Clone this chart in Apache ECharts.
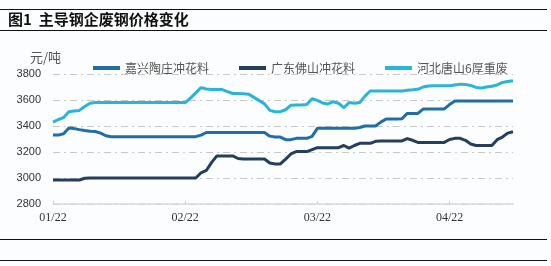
<!DOCTYPE html>
<html>
<head>
<meta charset="utf-8">
<script src="https://cdn.jsdelivr.net/npm/echarts@6/dist/echarts.min.js"></script>
<style>
html,body{margin:0;padding:0;background:#fcfdfe;}
#chart{width:551px;height:266px;}
</style>
</head>
<body>
<div id="chart"></div>
<script>
// Month tick labels (one label every 25 observations)
var monthLabels = ['01/22', '02/22', '03/22', '04/22'];
var seriesNames = ['嘉兴陶庄冲花料', '广东佛山冲花料', '河北唐山6厚重废'];
var yTicks = [2800, 3000, 3200, 3400, 3600, 3800];

var jiaxing = [3330,3330,3340,3385,3380,3372,3365,3360,3358,3345,
  3325,3318,3318,3318,3318,3318,3318,3318,3318,3318,
  3318,3318,3318,3318,3318,3318,3318,3318,3330,3350,
  3350,3350,3350,3350,3350,3350,3350,3350,3350,3350,
  3350,3322,3315,3315,3295,3295,3305,3305,3305,3320,
  3382,3382,3382,3382,3382,3382,3382,3382,3388,3400,
  3400,3400,3430,3454,3454,3454,3456,3497,3497,3497,
  3530,3531,3531,3531,3531,3565,3592,3592,3592,3592,
  3592,3592,3592,3592,3592,3592,3592,3592];

var foshan = [2985,2985,2985,2985,2985,2985,2998,3000,3000,3000,
  3000,3000,3000,3000,3000,3000,3000,3000,3000,3000,
  3000,3000,3000,3000,3000,3000,3000,3000,3040,3058,
  3120,3170,3170,3170,3170,3150,3146,3146,3146,3146,
  3146,3115,3108,3108,3145,3185,3203,3203,3203,3218,
  3233,3233,3233,3233,3233,3250,3230,3250,3267,3267,
  3267,3282,3285,3285,3285,3285,3285,3303,3290,3274,
  3274,3274,3274,3274,3274,3296,3305,3305,3290,3262,
  3250,3250,3250,3250,3295,3315,3345,3356];

var tangshan = [3430,3450,3465,3510,3515,3520,3550,3575,3580,3580,
  3580,3580,3580,3580,3580,3580,3580,3580,3580,3580,
  3580,3580,3580,3580,3580,3580,3614,3655,3695,3685,
  3680,3680,3680,3665,3650,3650,3648,3645,3620,3595,
  3570,3520,3510,3510,3525,3560,3562,3562,3565,3610,
  3597,3577,3570,3587,3575,3542,3580,3575,3580,3630,
  3669,3670,3670,3670,3670,3670,3670,3675,3678,3682,
  3700,3708,3710,3710,3710,3710,3716,3722,3720,3712,
  3697,3692,3700,3706,3716,3735,3742,3748];

var perMonth = 25;
var categories = [];
for (var i = 0; i < jiaxing.length; i++) {
  categories.push(i % perMonth === 0 ? monthLabels[i / perMonth] : ('·' + i));
}

var chart = echarts.init(document.getElementById('chart'), null, {renderer: 'canvas'});
var colors = ['#1f6ea6', '#233f5c', '#2bb4d9'];

chart.setOption({
  backgroundColor: '#fcfdfe',
  animation: false,
  color: colors,
  graphic: [
    {type: 'line', shape: {x1: 0, y1: 9.5, x2: 547, y2: 9.5}, style: {stroke: '#111', lineWidth: 1.2}},
    {type: 'line', shape: {x1: 0, y1: 30.5, x2: 547, y2: 30.5}, style: {stroke: '#111', lineWidth: 1.2}},
    {type: 'line', shape: {x1: 0, y1: 239.5, x2: 547, y2: 239.5}, style: {stroke: '#111', lineWidth: 1.2}},
    {type: 'line', shape: {x1: 0, y1: 260.5, x2: 547, y2: 260.5}, style: {stroke: '#111', lineWidth: 1.2}},
    {type: 'text', left: 8, top: 12, style: {text: '图1  主导钢企废钢价格变化', fill: '#111',
      font: 'bold 15px "Noto Sans CJK SC", sans-serif'}},
    {type: 'text', left: 30, top: 51, style: {text: '元/吨', fill: '#555',
      font: '13px "Noto Sans CJK SC", serif'}}
  ],
  legend: {
    left: 93, top: 62, itemGap: 30, itemWidth: 27, itemHeight: 4, padding: 0,
    icon: 'rect',
    textStyle: {fontSize: 12, color: '#555', fontFamily: '"Noto Sans CJK SC", serif'},
    data: seriesNames
  },
  grid: {left: 53, right: 38, top: 74, bottom: 62, containLabel: false},
  xAxis: {
    type: 'category',
    data: categories,
    boundaryGap: false,
    axisLine: {lineStyle: {color: '#d9d9d9', width: 1.5}},
    axisTick: {show: true, interval: perMonth - 1, length: 3, inside: true, lineStyle: {color: '#d0d0d0'}},
    axisLabel: {interval: perMonth - 1, margin: 8, color: '#333', fontSize: 12,
      fontFamily: '"Liberation Serif", serif',
      formatter: function (v) { return monthLabels.indexOf(v) >= 0 ? v : ''; }},
    splitLine: {show: false}
  },
  yAxis: {
    type: 'value',
    min: yTicks[0], max: yTicks[yTicks.length - 1], interval: 200,
    axisLine: {show: false}, axisTick: {show: false},
    axisLabel: {margin: 12, color: '#333', fontSize: 11, fontFamily: '"Liberation Sans", Arial, sans-serif',
      formatter: function (v) { return String(v); }},
    splitLine: {lineStyle: {color: '#c8c8c8', width: 1, type: [7, 4, 2, 4]}}
  },
  series: [
    {name: seriesNames[0], type: 'line', data: jiaxing, showSymbol: false, symbol: 'none',
      lineStyle: {width: 3, color: colors[0], join: 'round'}, z: 3},
    {name: seriesNames[1], type: 'line', data: foshan, showSymbol: false, symbol: 'none',
      lineStyle: {width: 3, color: colors[1], join: 'round'}, z: 2},
    {name: seriesNames[2], type: 'line', data: tangshan, showSymbol: false, symbol: 'none',
      lineStyle: {width: 3, color: colors[2], join: 'round'}, z: 4}
  ]
});
</script>
</body>
</html>
